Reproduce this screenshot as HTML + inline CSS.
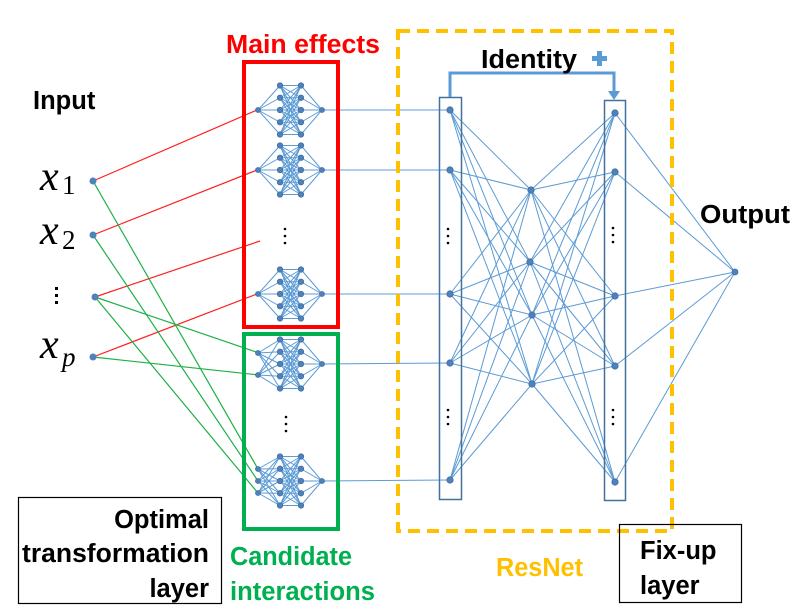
<!DOCTYPE html>
<html><head><meta charset="utf-8"><style>
html,body{margin:0;padding:0;background:#fff;}
svg{display:block;font-family:"Liberation Sans",sans-serif;}
.b{font-weight:bold;font-size:25.5px;}
.m{font-family:"Liberation Serif",serif;font-style:italic;font-size:42px;}
.s{font-family:"Liberation Serif",serif;font-size:27px;}
</style></head><body>
<svg id="s" width="796" height="611" viewBox="0 0 796 611" xmlns="http://www.w3.org/2000/svg">
<g id="lines" stroke="#5b9bd5" stroke-width="1" fill="none"></g>
<g stroke="#ff2020" stroke-width="1.2">
<line x1="93" y1="181" x2="257" y2="110"/>
<line x1="93" y1="235" x2="257" y2="170"/>
<line x1="95" y1="297" x2="260" y2="241"/>
<line x1="93" y1="357" x2="257" y2="294"/>
</g>
<g stroke="#1db045" stroke-width="1.2">
<line x1="95" y1="297" x2="259" y2="353"/>
<line x1="93" y1="357" x2="259" y2="375"/>
<line x1="93" y1="181" x2="258" y2="469"/>
<line x1="93" y1="235" x2="258" y2="481"/>
<line x1="95" y1="297" x2="258" y2="493"/>
</g>
<g id="nodes" fill="#4f81bd" stroke="#41719c" stroke-width="0.8"></g>
<g fill="#4f81bd">
<circle cx="93" cy="181" r="3.5"/><circle cx="93" cy="235" r="3.5"/><circle cx="95" cy="297" r="3.5"/><circle cx="93" cy="357" r="3.5"/>
</g>
<rect x="244" y="62" width="94" height="265" fill="none" stroke="#ff0000" stroke-width="4"/>
<rect x="244" y="334" width="94" height="195" fill="none" stroke="#00b050" stroke-width="4"/>
<rect x="398" y="31" width="274" height="500" fill="none" stroke="#ffc000" stroke-width="4" stroke-dasharray="12,7"/>
<rect x="439.5" y="97.5" width="22" height="402" fill="none" stroke="#41719c" stroke-width="1.5"/>
<rect x="604.5" y="100.5" width="21" height="400" fill="none" stroke="#41719c" stroke-width="1.5"/>
<path d="M450 97 V73 H614 V92" fill="none" stroke="#5b9bd5" stroke-width="3"/>
<polygon points="608,91 620,91 614,100" fill="#5b9bd5"/>
<path d="M598 53 h5 v5 h5 v5 h-5 v5 h-5 v-5 h-5 v-5 h5z" fill="#5b9bd5" transform="translate(-1,-2)"/>
<g fill="#000">
<circle cx="285" cy="229" r="1.3"/><circle cx="285" cy="236" r="1.3"/><circle cx="285" cy="243" r="1.3"/>
<circle cx="286" cy="417" r="1.3"/><circle cx="286" cy="424" r="1.3"/><circle cx="286" cy="431" r="1.3"/>
<circle cx="448" cy="229" r="1.3"/><circle cx="448" cy="236" r="1.3"/><circle cx="448" cy="243" r="1.3"/>
<circle cx="448" cy="410" r="1.3"/><circle cx="448" cy="417" r="1.3"/><circle cx="448" cy="424" r="1.3"/>
<circle cx="613" cy="228" r="1.3"/><circle cx="613" cy="235" r="1.3"/><circle cx="613" cy="242" r="1.3"/>
<circle cx="613" cy="410" r="1.3"/><circle cx="613" cy="417" r="1.3"/><circle cx="613" cy="424" r="1.3"/>
<rect x="55" y="287" width="3" height="3"/><rect x="55" y="294" width="3" height="3"/><rect x="55" y="301" width="3" height="3"/>
</g>
<text x="33" y="109" class="b">Input</text>
<text x="40" y="190" class="m">x</text><text x="62" y="194" class="s">1</text>
<text x="40" y="244" class="m">x</text><text x="62" y="249" class="s">2</text>
<text x="40" y="358" class="m">x</text><text x="62" y="366" class="s" font-style="italic">p</text>
<text x="226" y="53" class="b" fill="#ff0000" textLength="154" lengthAdjust="spacingAndGlyphs">Main effects</text>
<text x="481" y="68" class="b" textLength="96" lengthAdjust="spacingAndGlyphs">Identity</text>
<text x="700" y="223" class="b" textLength="90" lengthAdjust="spacingAndGlyphs">Output</text>
<rect x="18.5" y="497.5" width="203" height="106" fill="none" stroke="#000" stroke-width="1.2"/>
<text x="209" y="528" class="b" text-anchor="end">Optimal</text>
<text x="209" y="562" class="b" text-anchor="end" textLength="187" lengthAdjust="spacingAndGlyphs">transformation</text>
<text x="209" y="597" class="b" text-anchor="end">layer</text>
<text x="230" y="565" class="b" fill="#00b050" textLength="122" lengthAdjust="spacingAndGlyphs">Candidate</text>
<text x="230" y="600" class="b" fill="#00b050" textLength="145" lengthAdjust="spacingAndGlyphs">interactions</text>
<text x="496" y="576" class="b" fill="#ffc000" textLength="87" lengthAdjust="spacingAndGlyphs">ResNet</text>
<rect x="619.5" y="524.5" width="122" height="78" fill="none" stroke="#000" stroke-width="1.2"/>
<text x="640" y="559" class="b">Fix-up</text>
<text x="640" y="594" class="b">layer</text>
</svg>
<script>
var L=document.getElementById('lines'),N=document.getElementById('nodes'),ns='http://www.w3.org/2000/svg';
function ln(a,b,c,d){var e=document.createElementNS(ns,'line');e.setAttribute('x1',a);e.setAttribute('y1',b);e.setAttribute('x2',c);e.setAttribute('y2',d);L.appendChild(e);}
function nd(x,y,r){var e=document.createElementNS(ns,'circle');e.setAttribute('cx',x);e.setAttribute('cy',y);e.setAttribute('r',r||3);N.appendChild(e);}
function net(ins,cy,ox){var h=[];for(var i=0;i<5;i++)h.push(cy-24.5+i*12.25);
ins.forEach(function(y){h.forEach(function(v){ln(258,y,280,v);});});
h.forEach(function(a){h.forEach(function(b){ln(280,a,301,b);});ln(301,a,322,cy);});
ins.forEach(function(y){nd(258,y,2.5);});h.forEach(function(v){nd(280,v,2.7);nd(301,v,2.7);});nd(322,cy,2.5);
ln(322,cy,450,ox);}
net([110],110,110);net([170],170,170);net([294],294,294);net([353,375],364,363);net([469,481,493],481,480);
var Lc=[110,170,294,363,480],M=[[531,190],[530,262],[532,315],[532,384]],R=[113,172,296,366,482];
Lc.forEach(function(y){M.forEach(function(m){ln(450,y,m[0],m[1]);});});
M.forEach(function(m){R.forEach(function(y){ln(m[0],m[1],615,y);});});
R.forEach(function(y){ln(615,y,735,272);});
Lc.forEach(function(y){nd(450,y,3.2);});M.forEach(function(m){nd(m[0],m[1],3.2);});R.forEach(function(y){nd(615,y,3.2);});nd(735,272,3);
</script>
</body></html>
